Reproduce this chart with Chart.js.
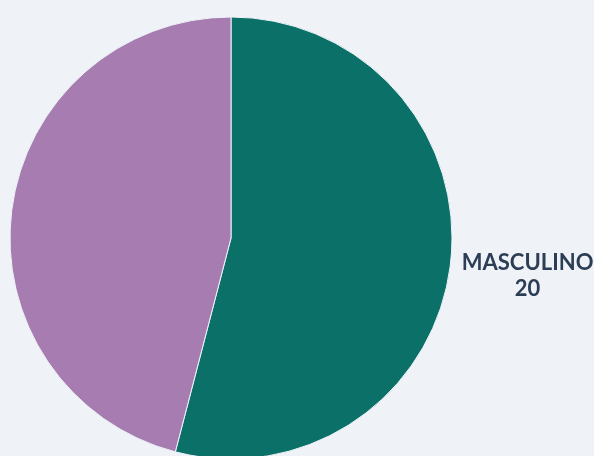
<!DOCTYPE html>
<html>
<head>
<meta charset="utf-8">
<script src="https://cdn.jsdelivr.net/npm/chart.js@4"></script>
<style>
  html, body { margin: 0; padding: 0; background: #eff3f8; overflow: hidden; }
  #wrap { width: 594px; height: 456px; }
</style>
</head>
<body>
<div id="wrap"><canvas id="genero" width="594" height="456"></canvas></div>
<script>
// ─── DATOS ────────────────────────────────────────────────────────────────
const categorias = ['MASCULINO', 'FEMENINO'];
const valores = [20, 17];
const colores = ['#0a7068', '#a77db1'];

// etiquetas fuera de la torta: nombre y valor en dos líneas
const etiquetasFuera = {
    id: 'etiquetasFuera',
    afterDatasetsDraw(chart) {
        const c = chart.ctx;
        const meta = chart.getDatasetMeta(0);
        c.save();
        c.fillStyle = '#2c3e55';
        c.font = "bold 22px 'Lato', sans-serif";
        c.textAlign = 'center';
        c.textBaseline = 'middle';
        meta.data.forEach((arc, i) => {
            const p = arc.getProps(['x', 'y', 'startAngle', 'endAngle', 'outerRadius'], true);
            const mid = (p.startAngle + p.endAngle) / 2;
            const r = p.outerRadius + 78;
            const x = p.x + Math.cos(mid) * r;
            const y = p.y + Math.sin(mid) * r;
            c.fillText(categorias[i], x, y - 13);
            c.fillText(String(valores[i]), x, y + 13);
        });
        c.restore();
    }
};

new Chart(document.getElementById('genero'), {
    type: 'pie',
    data: {
        labels: categorias,
        datasets: [{
            data: valores,
            backgroundColor: colores,
            borderColor: '#eff3f8',
            borderWidth: 1,
            clip: false
        }]
    },
    options: {
        responsive: false,
        animation: false,
        radius: 221,
        layout: { padding: { left: 0, right: 132, top: 20, bottom: 0 } },
        plugins: {
            legend: { display: false },
            tooltip: { enabled: false }
        }
    },
    plugins: [etiquetasFuera]
});
</script>
</body>
</html>
